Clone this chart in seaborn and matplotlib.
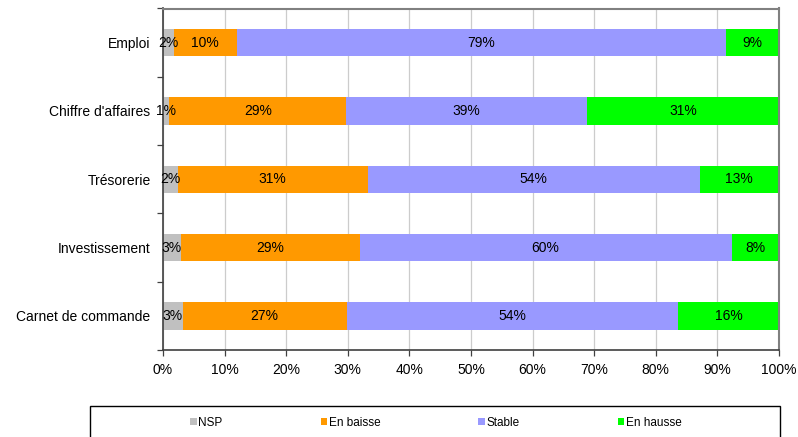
import matplotlib
matplotlib.use("Agg")
import matplotlib.pyplot as plt
from matplotlib.patches import Rectangle
from matplotlib.ticker import FixedLocator, PercentFormatter
import numpy as np
import pandas as pd
import seaborn as sns

# Survey answers per topic, in percent of respondents
categories = ["Emploi", "Chiffre d'affaires", "Trésorerie", "Investissement", "Carnet de commande"]
series_names = ["NSP", "En baisse", "Stable", "En hausse"]
nsp = [1.75, 1.05, 2.4, 2.85, 3.2]
en_baisse = [10.2, 28.65, 30.8, 29.05, 26.6]
stable = [79.4, 39.2, 53.9, 60.4, 53.8]
en_hausse = [8.65, 31.1, 12.9, 7.7, 16.4]
colors = ["#C0C0C0", "#FF9900", "#9999FF", "#00FF00"]
x_ticks = list(range(0, 101, 10))

sns.set_theme(style="white")
plt.rcParams["font.family"] = ["Liberation Sans", "DejaVu Sans"]

df = pd.DataFrame({"categorie": categories, "NSP": nsp, "En baisse": en_baisse,
                   "Stable": stable, "En hausse": en_hausse})
cum = df[series_names].cumsum(axis=1)
starts = cum - df[series_names]

fig = plt.figure(figsize=(7.98, 4.37), dpi=100)
ax = fig.add_axes([163 / 798, 87 / 437, 616 / 798, 341.5 / 437])

# Stacked bars: draw cumulative totals from the last series backwards
for name, col in reversed(list(zip(series_names, colors))):
    sns.barplot(x=cum[name], y=df["categorie"], order=categories, orient="h",
                color=col, width=0.4, linewidth=0, saturation=1, ax=ax, label=name)
if ax.get_legend() is not None:
    ax.get_legend().remove()

# Segment labels
for name in series_names:
    for i, cat in enumerate(categories):
        v = df.loc[i, name]
        xc = starts.loc[i, name] + v / 2
        ax.text(xc, i, f"{v:.0f}%", ha="center", va="center", fontsize=10, color="#000000")

ax.set_xlim(0, 100)
ax.set_ylim(len(categories) - 0.5, -0.5)
ax.set_xlabel("")
ax.set_ylabel("")
ax.xaxis.set_major_locator(FixedLocator(x_ticks))
ax.xaxis.set_major_formatter(PercentFormatter(decimals=0))
ax.grid(axis="x", color="#CCCCCC", linewidth=0.9)
ax.set_axisbelow(True)

ax.yaxis.set_minor_locator(FixedLocator(np.arange(-0.5, len(categories), 1.0)))
ax.tick_params(axis="y", which="major", length=0, pad=9, labelsize=10, labelcolor="#000000")
ax.tick_params(axis="y", which="minor", length=4, width=0.9, color="#404040", left=True)
ax.tick_params(axis="x", which="major", length=4, width=0.9, color="#404040", bottom=True,
               pad=5, labelsize=10, labelcolor="#000000")

for side in ["left", "bottom"]:
    ax.spines[side].set_color("#404040")
    ax.spines[side].set_linewidth(1.2)
for side in ["top", "right"]:
    ax.spines[side].set_visible(True)
    ax.spines[side].set_color("#808080")
    ax.spines[side].set_linewidth(1.5)

# Legend box below the plot (its lower edge runs past the figure)
fig.patches.append(Rectangle((90 / 798, -0.05), 690 / 798, 1 - 406 / 437 + 0.05,
                             transform=fig.transFigure, fill=False,
                             edgecolor="#000000", linewidth=1.0))

handles, labels = ax.get_legend_handles_labels()
order = [labels.index(n) for n in series_names]
leg = fig.legend([handles[k] for k in order], series_names,
                 loc="center", bbox_to_anchor=(436 / 798, 1 - 423 / 437),
                 ncol=4, fontsize=8.5, frameon=False,
                 handlelength=0.55, handleheight=0.55, handletextpad=0.15,
                 columnspacing=8.3, borderpad=0, borderaxespad=0)
for t in leg.get_texts():
    t.set_color("#000000")

fig.savefig("out.png", dpi=100)
